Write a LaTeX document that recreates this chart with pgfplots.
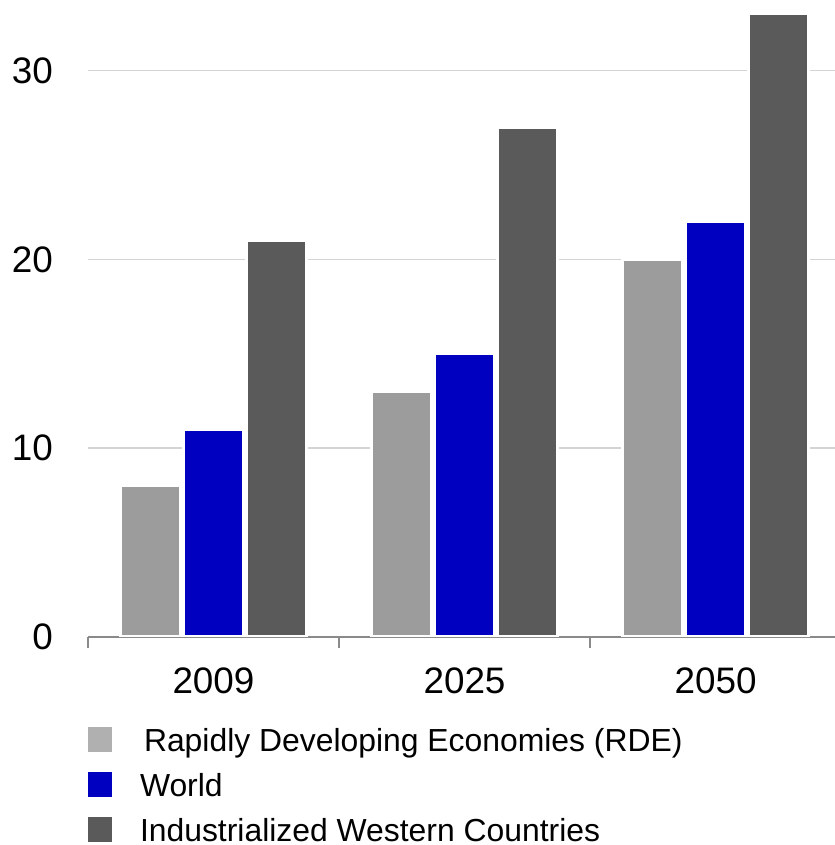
\documentclass[border=0pt]{standalone}
\usepackage{pgfplots}
\pgfplotsset{compat=1.18}
\usepackage{fontspec}
\setmainfont{Liberation Sans}
\definecolor{rde}{HTML}{9C9C9C}
\definecolor{rdeleg}{HTML}{B0B0B0}
\definecolor{world}{HTML}{0000C0}
\definecolor{iwc}{HTML}{5A5A5A}
\definecolor{gridc}{HTML}{D4D4D4}
\definecolor{axc}{HTML}{8A8A8A}
\pgfplotsset{layers/mylayers/.define layer set={axis background,axis grid,main,axis ticks,axis lines,axis tick labels,axis descriptions,axis foreground}{}}
\begin{document}
\begin{tikzpicture}
\begin{axis}[name=ax, set layers=mylayers,
  scale only axis, width=747bp, height=623bp,
  xmin=-0.5, xmax=2.476, ymin=0, ymax=33,
  axis x line*=bottom, axis y line*=left,
  y axis line style={draw=none},
  x axis line style={draw=axc, line width=1.5bp},
  xtick={0,1,2}, xticklabels={2009,2025,2050},
  minor xtick={-0.5,0.5,1.5},
  ytick={0,10,20,30},
  major tick length=0pt, minor tick length=11bp,
  tick align=outside,
  minor tick style={draw=axc, line width=1.5bp},
  ymajorgrids, grid style={draw=gridc, line width=1.5bp},
  /pgf/number format/assume math mode=true,
  tick label style={font=\fontsize{37}{44}\selectfont},
  yticklabel style={anchor=east, inner sep=0pt, xshift=-35bp},
  xticklabel style={anchor=north, inner sep=0pt, yshift=-31bp},
  legend cell align=left,
  legend image code/.code={\fill[#1, draw=none] (0bp,-8.5bp) rectangle (24bp,16.5bp);},
  legend style={at={(0,-0.1445)}, anchor=north west, draw=none, fill=none,
    inner sep=0pt, outer sep=0pt, row sep=12.5bp, column sep=28bp,
    font=\fontsize{32}{38}\selectfont,
    nodes={inner sep=0pt, text height=24bp, text depth=8bp}},
]
\addplot[ybar, forget plot, bar width=0.241, bar shift=-0.251, fill=rde, draw=white, line width=3bp] coordinates {(0,8) (1,13) (2,20)};
\addplot[ybar, forget plot, bar width=0.241, bar shift=0, fill=world, draw=white, line width=3bp] coordinates {(0,11) (1,15) (2,22)};
\addplot[ybar, forget plot, bar width=0.241, bar shift=0.251, fill=iwc, draw=white, line width=3bp] coordinates {(0,21) (1,27) (2,33)};
\addlegendimage{fill=rdeleg, draw=none}
\addlegendentry{\hspace{4bp}Rapidly Developing Economies (RDE)}
\addlegendimage{fill=world, draw=none}
\addlegendentry{World}
\addlegendimage{fill=iwc, draw=none}
\addlegendentry{Industrialized Western Countries}
\end{axis}
\pgfresetboundingbox
\path ([shift={(-88bp,-208bp)}]ax.south west) rectangle ([shift={(0bp,14bp)}]ax.north east);
\end{tikzpicture}
\end{document}
